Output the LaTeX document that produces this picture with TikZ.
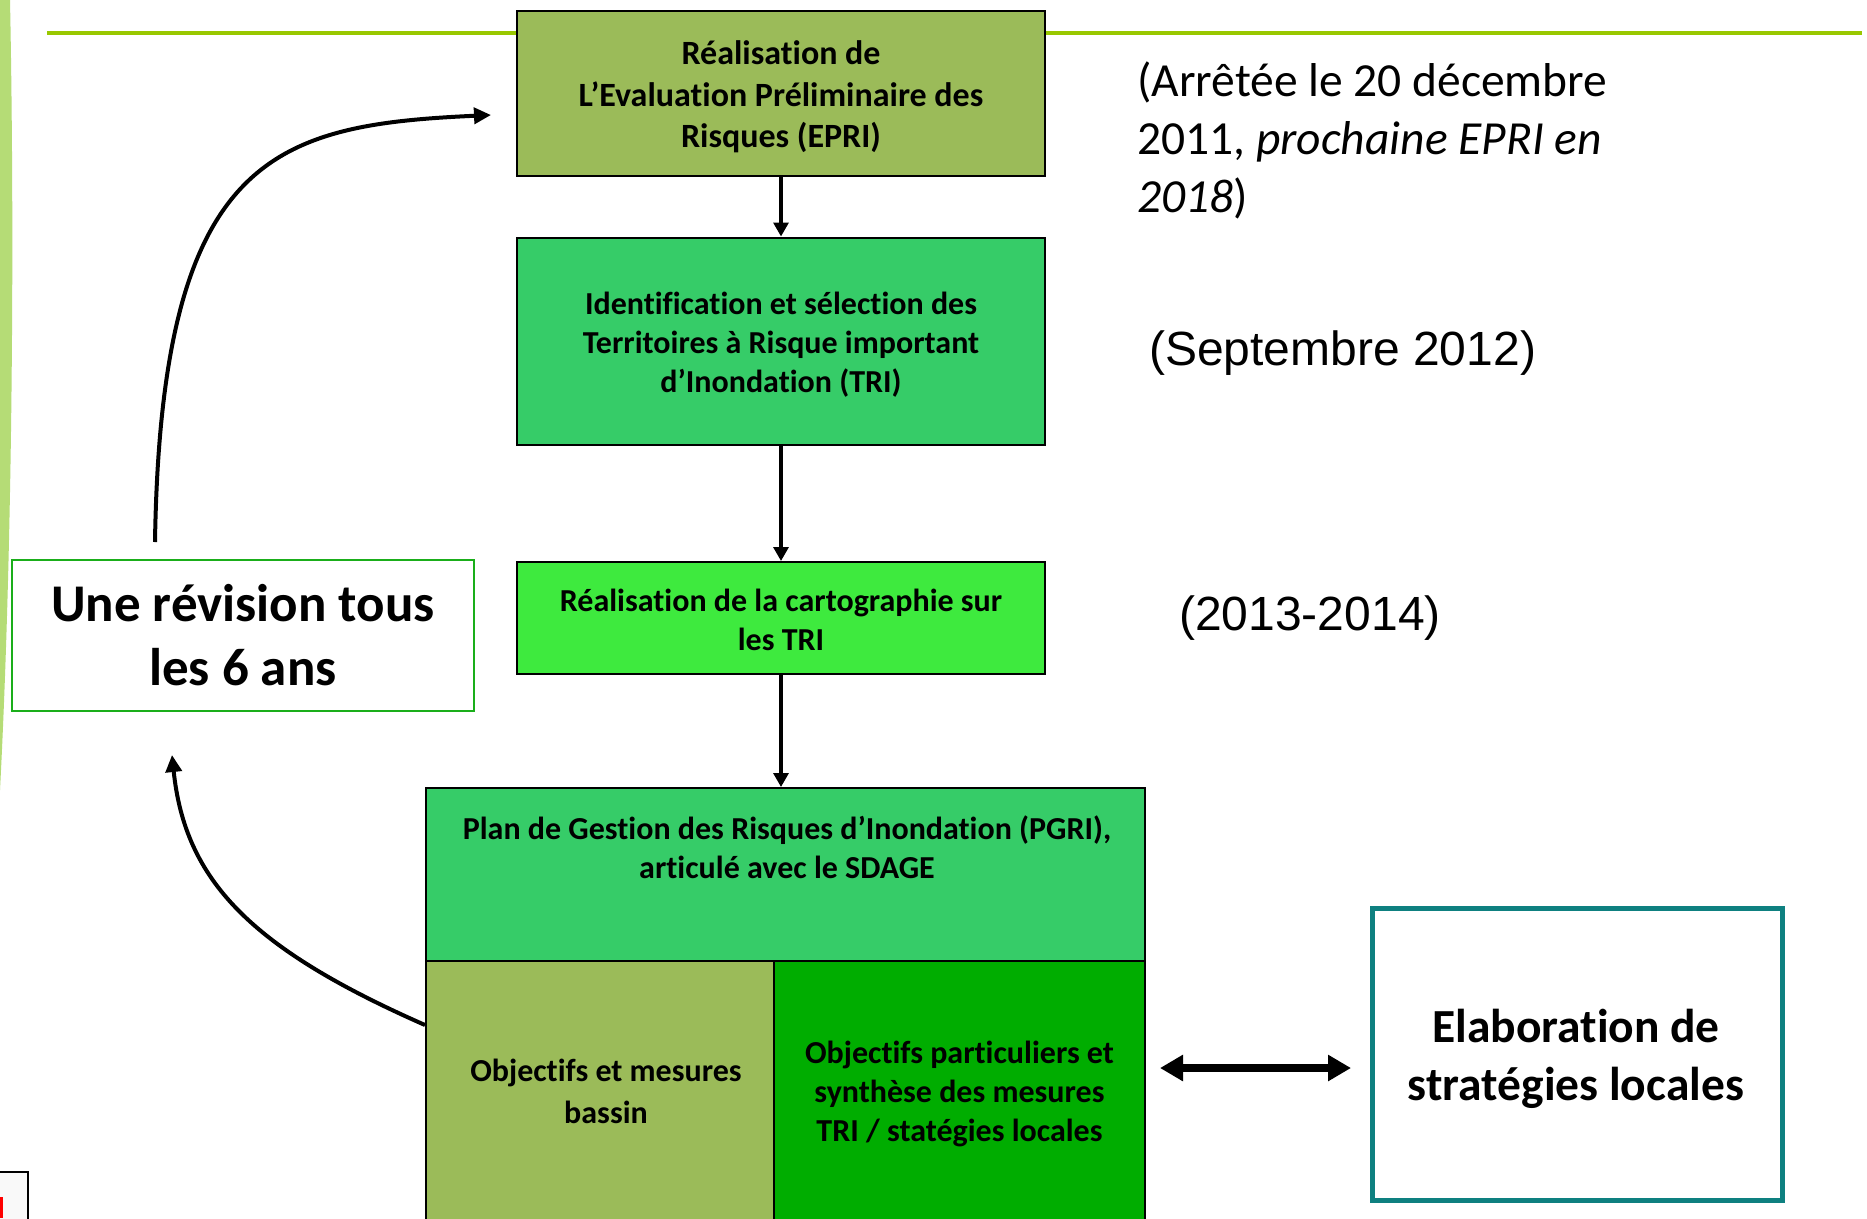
\documentclass[tikz,border=0pt]{standalone}
\usepackage{fontspec}
\setmainfont{Carlito}[RawFeature={-liga;-clig;-calt;-dlig}]
\newfontfamily\arialf{Liberation Sans}
\usetikzlibrary{arrows.meta}
\definecolor{olivebox}{HTML}{9BBB59}
\definecolor{midgreen}{HTML}{36CC68}
\definecolor{brightgreen}{HTML}{3EEA3E}
\definecolor{darkgreenbox}{HTML}{00AD00}
\definecolor{linegreen}{HTML}{99C800}
\definecolor{bandgreen}{HTML}{B5DC76}
\definecolor{revgreen}{HTML}{1AAE1A}
\definecolor{tealbox}{HTML}{0E8080}
\begin{document}
\begin{tikzpicture}[x=1pt,y=-1pt,
  box/.style={draw=black, line width=2pt, inner sep=0pt, align=center, font=\bfseries\fontsize{32}{39}\selectfont},
  flow/.style={line width=3.2pt, -{Triangle[length=14pt,width=15pt]}},
  curvearrow/.style={line width=4pt, -{Triangle[length=17pt,width=16pt]}},
  dbl/.style={line width=8pt, {Triangle[length=23pt,width=25pt]}-{Triangle[length=23pt,width=25pt]}},
  note/.style={inner sep=0pt, anchor=west}
]
\clip (0,0) rectangle (1867,1218);
\fill[white] (0,0) rectangle (1867,1218);
% template decorations
\fill[bandgreen] (0,0) -- (10,0) .. controls (15,250) and (12,560) .. (0,790) -- cycle;
\draw[linegreen, line width=4pt] (47,33) -- (1862,33);
\filldraw[fill=white!95!gray, draw=black, line width=1.5pt] (-2,1172) rectangle (28,1225);
\fill[red] (0,1197) rectangle (2.5,1218);

% main flow boxes
\node[box, fill=olivebox, minimum width=528pt, minimum height=165pt] (epri) at (781,93.5) {};
\node[inner sep=0pt, align=center, font=\bfseries\fontsize{34}{41.5}\selectfont] (eprit) at (781,97)
  {Réalisation de\\L’Evaluation Préliminaire des\\Risques (EPRI)};
\node[box, fill=midgreen, minimum width=528pt, minimum height=207pt] (tri) at (781,341) {};
\node[inner sep=0pt, align=center, font=\bfseries\fontsize{32}{39}\selectfont] (trit) at (781,345)
  {Identification et sélection des\\Territoires à Risque important\\d’Inondation (TRI)};
\node[box, fill=brightgreen, minimum width=528pt, minimum height=112pt] (carto) at (781,618) {};
\node[inner sep=0pt, align=center, font=\bfseries\fontsize{32}{39}\selectfont] (cartot) at (781,619.5)
  {Réalisation de la cartographie sur\\les TRI};
\node[box, fill=midgreen, minimum width=719pt, minimum height=173pt] (pgri) at (785.5,874.5) {};
\node[inner sep=0pt, align=center, font=\bfseries\fontsize{32}{39}\selectfont] (pgrit) at (787,847.5)
  {Plan de Gestion des Risques d’Inondation (PGRI),\\articulé avec le SDAGE};
\node[box, fill=olivebox, minimum width=348pt, minimum height=261pt] (bl) at (600,1091.5) {};
\node[inner sep=0pt, align=center, font=\bfseries\fontsize{32}{41.5}\selectfont] (blt) at (606,1091.5)
  {Objectifs et mesures\\bassin};
\node[box, fill=darkgreenbox, minimum width=371pt, minimum height=261pt] (br) at (959.5,1091.5) {};
\node[inner sep=0pt, align=center, font=\bfseries\fontsize{32}{39}\selectfont] (brt) at (959.5,1094)
  {Objectifs particuliers et\\synthèse des mesures\\TRI / statégies locales};

% side boxes
\node[draw=revgreen, line width=2pt, minimum width=462pt, minimum height=151pt, inner sep=0pt, align=center,
  font=\bfseries\fontsize{53}{64}\selectfont] (rev) at (243,635.5) {Une révision tous\\les 6 ans};
\node[draw=tealbox, line width=5pt, minimum width=410pt, minimum height=292pt, inner sep=0pt] (elab) at (1577,1054) {};
\node[inner sep=0pt, align=center, font=\bfseries\fontsize{47.5}{58}\selectfont] (elabt) at (1576,1059)
  {Elaboration de\\stratégies locales};

% right notes
\node[inner sep=0pt, anchor=north west, align=left, font=\fontsize{47.5}{58}\selectfont] (n1) at (1137,62)
  {(Arrêtée le 20 décembre\\2011, \textit{prochaine EPRI en}\\\textit{2018})};
\node[note, font=\arialf\fontsize{48}{56}\selectfont] (n2) at (1149,353) {(Septembre 2012)};
\node[note, font=\arialf\fontsize{48}{56}\selectfont] (n3) at (1179,618) {(2013-2014)};

% connectors
\draw[flow] (epri.south) -- (tri.north);
\draw[flow] (tri.south) -- (carto.north);
\draw[flow] (carto.south) -- (carto.south |- pgri.north);

\coordinate (c1s) at (155,542);
\coordinate (c1e) at (491,115);
\draw[curvearrow] (c1s) .. controls (161,155) and (274,125) .. (c1e);
\coordinate (c2s) at (bl.west |- 0,1025);
\coordinate (c2e) at (172,755);
\draw[curvearrow] (c2s) .. controls (250,948) and (185,880) .. (c2e);

\coordinate (da) at (1160,1068);
\coordinate (db) at (1351,1068);
\draw[dbl] (da) -- (db);
\end{tikzpicture}
\end{document}
